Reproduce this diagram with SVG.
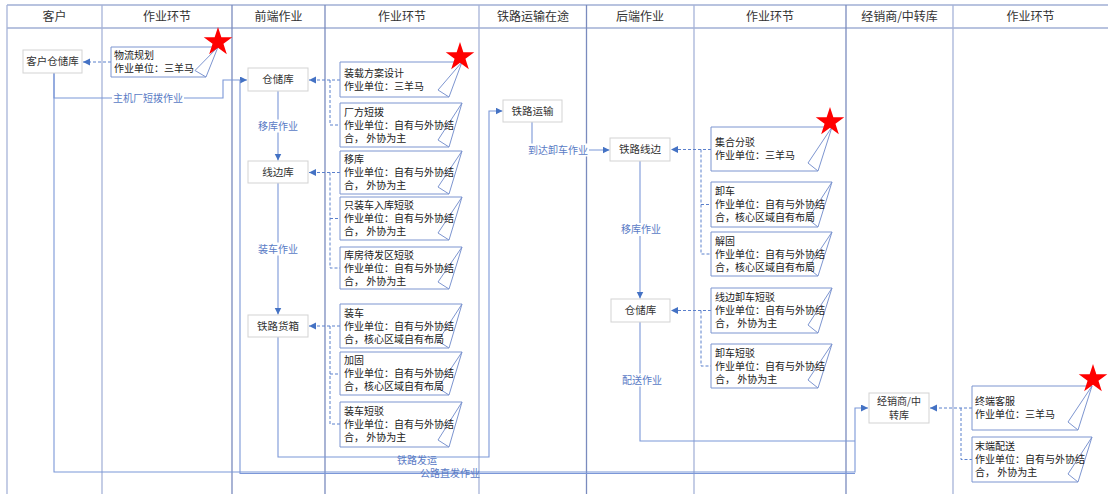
<svg xmlns="http://www.w3.org/2000/svg" width="1108" height="494" viewBox="0 0 1108 494">
<style>
text{font-family:"Noto Sans CJK SC","Noto Sans",sans-serif}
.hd{font-size:12px;fill:#333;text-anchor:middle}
.nd{font-size:10.5px;fill:#333;text-anchor:middle}
.nd2{font-size:10px;fill:#333;text-anchor:middle}
.nt{font-size:10px;fill:#222}
.lb{font-size:10px;fill:#5A7BC5;text-anchor:middle}
.box{fill:#fff;stroke:#D3D3D3;stroke-width:1}
.note{fill:#fff;stroke:#7D95D0;stroke-width:1}
.curl{fill:none;stroke:#7D95D0;stroke-width:1}
.ln{stroke:#7A8BBE;stroke-width:1.3}
.ll{stroke:#A6B3D8;stroke-width:1.3}
.hl{stroke:#B8C3DF;stroke-width:2}
.c{fill:none;stroke:#7B97D8;stroke-width:1.1}
.d{fill:none;stroke:#5B80CC;stroke-width:1;stroke-dasharray:3 2}
.lbg{fill:#fff}
.star{fill:#FF0000}
</style>
<defs>
<marker id="ah" markerUnits="userSpaceOnUse" markerWidth="8" markerHeight="8" refX="7" refY="3.5" orient="auto"><path d="M0,0 L7,3.5 L0,7 z" fill="#4472C4"/></marker>
<polygon id="st" points="0,-15 3.37,-4.64 14.27,-4.64 5.45,1.77 8.82,12.14 0,5.73 -8.82,12.14 -5.45,1.77 -14.27,-4.64 -3.37,-4.64"/>
</defs>
<rect width="1108" height="494" fill="#fff"/>
<g id="lanes">
<line class="hl" x1="7" y1="5" x2="1108" y2="5"/>
<line class="hl" x1="7" y1="28" x2="1108" y2="28"/>
<line class="ll" x1="7" y1="5" x2="7" y2="494"/>
<line class="ll" x1="102" y1="5" x2="102" y2="494"/>
<line class="ln" x1="232" y1="5" x2="232" y2="494"/>
<line class="ln" x1="325" y1="5" x2="325" y2="494"/>
<line class="ll" x1="479" y1="5" x2="479" y2="494"/>
<line class="ln" x1="586.5" y1="5" x2="586.5" y2="494"/>
<line class="ll" x1="694" y1="5" x2="694" y2="494"/>
<line class="ln" x1="846" y1="5" x2="846" y2="494"/>
<line class="ll" x1="953" y1="5" x2="953" y2="494"/>
<text class="hd" x="54.5" y="21">客户</text>
<text class="hd" x="167" y="21">作业环节</text>
<text class="hd" x="278.5" y="21">前端作业</text>
<text class="hd" x="402" y="21">作业环节</text>
<text class="hd" x="533" y="21">铁路运输在途</text>
<text class="hd" x="640" y="21">后端作业</text>
<text class="hd" x="770" y="21">作业环节</text>
<text class="hd" x="899.5" y="21">经销商/中转库</text>
<text class="hd" x="1030.5" y="21">作业环节</text>
</g>
<g id="connectors">
<path class="c" d="M54,73 V98 H223 V80 H247" marker-end="url(#ah)"/>
<path class="c" d="M240,80 V473.5 H855"/>
<path class="c" d="M54,73 V472 H855 V408 H868" marker-end="url(#ah)"/>
<path class="c" d="M278,91 V160.5" marker-end="url(#ah)"/>
<path class="c" d="M278,183 V314.5" marker-end="url(#ah)"/>
<path class="c" d="M278,337 V457 H489 V111 H502.5" marker-end="url(#ah)"/>
<path class="c" d="M532,122 V150 H609.5" marker-end="url(#ah)"/>
<path class="c" d="M640,161 V298.5" marker-end="url(#ah)"/>
<path class="c" d="M640,322 V441 H855"/>
<path class="d" d="M111,62 H83" marker-end="url(#ah)"/>
<path class="d" d="M340,80 H309" marker-end="url(#ah)"/>
<path class="d" d="M330,80 V125 H340"/>
<path class="d" d="M340,172.5 H309" marker-end="url(#ah)"/>
<path class="d" d="M330,172.5 V268 H340 M330,218.5 H340"/>
<path class="d" d="M340,326 H309" marker-end="url(#ah)"/>
<path class="d" d="M330,326 V424 H340 M330,374 H340"/>
<path class="d" d="M711,149.5 H671" marker-end="url(#ah)"/>
<path class="d" d="M701,149.5 V254 H711 M701,204.5 H711"/>
<path class="d" d="M711,310.5 H671" marker-end="url(#ah)"/>
<path class="d" d="M701,310.5 V366 H711"/>
<path class="d" d="M972,408 H930" marker-end="url(#ah)"/>
<path class="d" d="M961,408 V459.5 H972"/>
<rect class="lbg" x="112" y="92" width="72" height="13"/>
<text class="lb" x="148" y="102.1">主机厂短拨作业</text>
<rect class="lbg" x="257" y="119.5" width="42" height="13"/>
<text class="lb" x="278" y="129.6">移库作业</text>
<rect class="lbg" x="257" y="242.5" width="42" height="13"/>
<text class="lb" x="278" y="252.6">装车作业</text>
<rect class="lbg" x="527" y="143.5" width="62" height="13"/>
<text class="lb" x="558" y="153.6">到达卸车作业</text>
<rect class="lbg" x="620" y="223" width="42" height="13"/>
<text class="lb" x="641" y="233.1">移库作业</text>
<rect class="lbg" x="621" y="373.5" width="42" height="13"/>
<text class="lb" x="642" y="383.6">配送作业</text>
<text class="lb" x="417" y="463.6">铁路发运</text>
<text class="lb" x="450" y="477">公路直发作业</text>
</g>
<g id="n-kehucangchu"><rect class="box" x="23" y="50" width="59" height="23"/><text class="nd" x="52.5" y="65.4">客户仓储库</text></g>
<g id="n-cangchu1"><rect class="box" x="248" y="68" width="60" height="23"/><text class="nd" x="278" y="83.4">仓储库</text></g>
<g id="n-xianbian"><rect class="box" x="248" y="161" width="60" height="22"/><text class="nd" x="278" y="175.9">线边库</text></g>
<g id="n-huoxiang"><rect class="box" x="248" y="315" width="60" height="22"/><text class="nd" x="278" y="329.9">铁路货箱</text></g>
<g id="n-yunshu"><rect class="box" x="503" y="100" width="59" height="22"/><text class="nd" x="532.5" y="114.9">铁路运输</text></g>
<g id="n-xianbian2"><rect class="box" x="610" y="138" width="60" height="23"/><text class="nd" x="640" y="153.4">铁路线边</text></g>
<g id="n-cangchu2"><rect class="box" x="611" y="299" width="59" height="23"/><text class="nd" x="640.5" y="314.4">仓储库</text></g>
<g id="n-jingxiao"><rect class="box" x="869" y="393" width="60" height="30"/><text class="nd2"><tspan x="899" y="404.9">经销商/中</tspan><tspan x="899" y="418.5">转库</tspan></text></g>
<g id="t-wuliu"><path class="note" d="M111,47 H218 L206,77 H111 Z"/><path class="curl" d="M218,47 L195,70.5 L206,77"/><text class="nt"><tspan x="114" y="59">物流规划</tspan><tspan x="114" y="72">作业单位：三羊马</tspan></text></g>
<g id="t-zhuangzai"><path class="note" d="M340,62 H462 L449,97 H340 Z"/><path class="curl" d="M462,62 L438,90 L449,97"/><text class="nt"><tspan x="344" y="76.6">装载方案设计</tspan><tspan x="344" y="89.6">作业单位：三羊马</tspan></text></g>
<g id="t-changfang"><path class="note" d="M340,103 H462 L449,147 H340 Z"/><path class="curl" d="M462,103 L438,140 L449,147"/><text class="nt"><tspan x="344" y="115.6">厂方短拨</tspan><tspan x="344" y="128.6">作业单位：自有与外协结</tspan><tspan x="344" y="141.6">合， 外协为主</tspan></text></g>
<g id="t-yiku"><path class="note" d="M340,151 H462 L449,194 H340 Z"/><path class="curl" d="M462,151 L438,187 L449,194"/><text class="nt"><tspan x="344" y="163.1">移库</tspan><tspan x="344" y="176.1">作业单位：自有与外协结</tspan><tspan x="344" y="189.1">合， 外协为主</tspan></text></g>
<g id="t-zhizhuang"><path class="note" d="M340,197 H462 L449,240 H340 Z"/><path class="curl" d="M462,197 L438,233 L449,240"/><text class="nt"><tspan x="344" y="209.1">只装车入库短驳</tspan><tspan x="344" y="222.1">作业单位：自有与外协结</tspan><tspan x="344" y="235.1">合， 外协为主</tspan></text></g>
<g id="t-kufang"><path class="note" d="M340,247 H462 L449,289 H340 Z"/><path class="curl" d="M462,247 L438,282 L449,289"/><text class="nt"><tspan x="344" y="258.6">库房待发区短驳</tspan><tspan x="344" y="271.6">作业单位：自有与外协结</tspan><tspan x="344" y="284.6">合， 外协为主</tspan></text></g>
<g id="t-zhuangche"><path class="note" d="M340,304 H462 L449,348 H340 Z"/><path class="curl" d="M462,304 L438,341 L449,348"/><text class="nt"><tspan x="344" y="316.6">装车</tspan><tspan x="344" y="329.6">作业单位：自有与外协结</tspan><tspan x="344" y="342.6">合，核心区域自有布局</tspan></text></g>
<g id="t-jiagu"><path class="note" d="M340,352 H462 L449,395 H340 Z"/><path class="curl" d="M462,352 L438,388 L449,395"/><text class="nt"><tspan x="344" y="364.1">加固</tspan><tspan x="344" y="377.1">作业单位：自有与外协结</tspan><tspan x="344" y="390.1">合，核心区域自有布局</tspan></text></g>
<g id="t-zhuangduan"><path class="note" d="M340,402 H462 L449,447 H340 Z"/><path class="curl" d="M462,402 L438,440 L449,447"/><text class="nt"><tspan x="344" y="415.1">装车短驳</tspan><tspan x="344" y="428.1">作业单位：自有与外协结</tspan><tspan x="344" y="441.1">合， 外协为主</tspan></text></g>
<g id="t-jihe"><path class="note" d="M711,127 H832 L818,171 H711 Z"/><path class="curl" d="M832,127 L808,163 L818,171"/><text class="nt"><tspan x="715" y="146.1">集合分驳</tspan><tspan x="715" y="159.1">作业单位：三羊马</tspan></text></g>
<g id="t-xieche"><path class="note" d="M711,182 H832 L818,227 H711 Z"/><path class="curl" d="M832,182 L808,219 L818,227"/><text class="nt"><tspan x="715" y="195.1">卸车</tspan><tspan x="715" y="208.1">作业单位：自有与外协结</tspan><tspan x="715" y="221.1">合，核心区域自有布局</tspan></text></g>
<g id="t-jiegu"><path class="note" d="M711,232 H832 L818,276 H711 Z"/><path class="curl" d="M832,232 L808,268 L818,276"/><text class="nt"><tspan x="715" y="244.6">解固</tspan><tspan x="715" y="257.6">作业单位：自有与外协结</tspan><tspan x="715" y="270.6">合，核心区域自有布局</tspan></text></g>
<g id="t-xianbianxie"><path class="note" d="M711,288 H832 L818,333 H711 Z"/><path class="curl" d="M832,288 L808,325 L818,333"/><text class="nt"><tspan x="715" y="301.1">线边卸车短驳</tspan><tspan x="715" y="314.1">作业单位：自有与外协结</tspan><tspan x="715" y="327.1">合， 外协为主</tspan></text></g>
<g id="t-xieduan"><path class="note" d="M711,344 H832 L818,388 H711 Z"/><path class="curl" d="M832,344 L808,380 L818,388"/><text class="nt"><tspan x="715" y="356.6">卸车短驳</tspan><tspan x="715" y="369.6">作业单位：自有与外协结</tspan><tspan x="715" y="382.6">合， 外协为主</tspan></text></g>
<g id="t-kefu"><path class="note" d="M972,386 H1092 L1078,430 H972 Z"/><path class="curl" d="M1092,386 L1068,422 L1078,430"/><text class="nt"><tspan x="975" y="405.1">终端客服</tspan><tspan x="975" y="418.1">作业单位：三羊马</tspan></text></g>
<g id="t-peisong"><path class="note" d="M972,437 H1092 L1078,482 H972 Z"/><path class="curl" d="M1092,437 L1068,474 L1078,482"/><text class="nt"><tspan x="975" y="450.1">末端配送</tspan><tspan x="975" y="463.1">作业单位：自有与外协结</tspan><tspan x="975" y="476.1">合， 外协为主</tspan></text></g>
<g id="stars">
<use class="star" href="#st" x="218" y="42"/>
<use class="star" href="#st" x="460" y="57"/>
<use class="star" href="#st" x="830" y="122"/>
<use class="star" href="#st" x="1093" y="379"/>
</g>
</svg>
